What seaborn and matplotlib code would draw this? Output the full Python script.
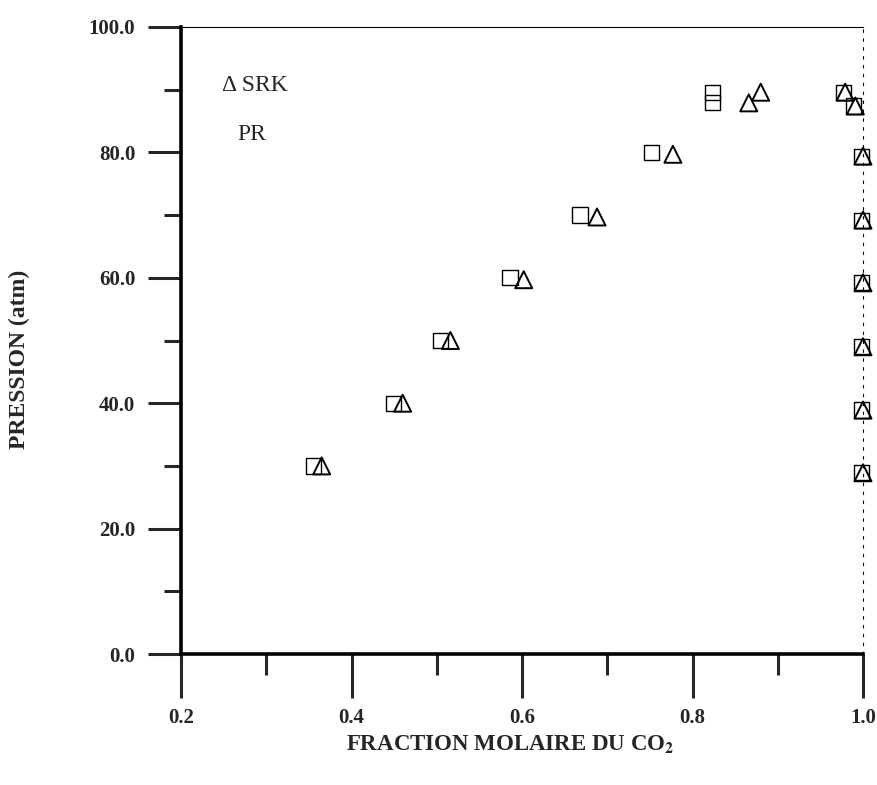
import matplotlib
matplotlib.use("Agg")
import matplotlib.pyplot as plt
import seaborn as sns
import pandas as pd
from matplotlib.ticker import MultipleLocator, FixedLocator

# SRK (triangles)
srk_x = [0.365, 0.460, 0.516, 0.602, 0.688, 0.777, 0.866, 0.880, 0.979, 0.991,
         1.000, 1.000, 1.000, 1.000, 1.000, 1.000]
srk_y = [30.0, 40.0, 50.0, 59.7, 69.7, 79.7, 87.9, 89.6, 89.6, 87.4,
         79.4, 69.2, 59.2, 49.0, 38.9, 28.9]
# PR (open squares)
pr_x = [0.355, 0.449, 0.504, 0.586, 0.668, 0.752, 0.823, 0.823, 0.977, 0.989,
        0.998, 0.998, 0.998, 0.998, 0.998, 0.998]
pr_y = [30.0, 40.0, 50.0, 60.0, 70.0, 80.0, 89.6, 88.0, 89.6, 87.4,
        79.4, 69.2, 59.2, 49.0, 38.9, 28.9]

x_ticks = [0.2, 0.4, 0.6, 0.8, 1.0]
x_ticklabels = ["0.2", "0.4", "0.6", "0.8", "1.0"]
y_ticks = [0, 20, 40, 60, 80, 100]
y_ticklabels = ["0.0", "20.0", "40.0", "60.0", "80.0", "100.0"]

sns.set_style("white")
plt.rcParams["font.family"] = ["Liberation Serif", "DejaVu Serif"]
plt.rcParams["mathtext.fontset"] = "stix"

fig = plt.figure(figsize=(8.77, 7.85), dpi=100)
ax = fig.add_axes([181/877, 1 - 654/785, (863 - 181)/877, (654 - 27)/785])

df_srk = pd.DataFrame({"x": srk_x, "y": srk_y})
df_pr = pd.DataFrame({"x": pr_x, "y": pr_y})

sns.scatterplot(data=df_pr, x="x", y="y", marker="s", s=120, facecolors="none",
                edgecolor="black", linewidth=1.0, ax=ax, clip_on=False, zorder=3)
sns.scatterplot(data=df_srk, x="x", y="y", marker="^", s=150, facecolors="none",
                edgecolor="black", linewidth=1.4, ax=ax, clip_on=False, zorder=4)

ax.set_xlim(0.2, 1.0)
ax.set_ylim(0, 100)

ax.xaxis.set_major_locator(FixedLocator(x_ticks))
ax.set_xticklabels(x_ticklabels)
ax.xaxis.set_minor_locator(MultipleLocator(0.1))
ax.yaxis.set_major_locator(FixedLocator(y_ticks))
ax.set_yticklabels(y_ticklabels)
ax.yaxis.set_minor_locator(MultipleLocator(10))

ax.tick_params(axis="y", which="major", direction="out", length=24, width=2.2,
               pad=9, labelsize=15, left=True)
ax.tick_params(axis="y", which="minor", direction="out", length=12, width=2.2, left=True)
ax.tick_params(axis="x", which="major", direction="out", length=32, width=2.2,
               pad=7, labelsize=15, bottom=True)
ax.tick_params(axis="x", which="minor", direction="out", length=15, width=2.2, bottom=True)
for lab in ax.get_xticklabels() + ax.get_yticklabels():
    lab.set_fontweight("bold")

for side in ["left", "bottom"]:
    ax.spines[side].set_linewidth(2.6)
    ax.spines[side].set_color("black")
ax.spines["top"].set_linewidth(0.8)
ax.spines["top"].set_color("black")
ax.spines["right"].set_linewidth(0.8)
ax.spines["right"].set_linestyle((0, (2, 6)))
ax.spines["right"].set_color("black")

ax.set_xlabel("FRACTION MOLAIRE DU CO$_\\mathbf{2}$", fontsize=16.5, fontweight="bold")
ax.set_ylabel("PRESSION (atm)", fontsize=17, fontweight="bold")
ax.xaxis.set_label_coords(0.482, -0.126)
ax.yaxis.set_label_coords(-0.222, 0.47)

ax.text(0.248, 90.7, "Δ SRK", fontsize=17, va="center", ha="left")
ax.text(0.266, 82.9, "PR", fontsize=17, va="center", ha="left")

fig.savefig("out.png", dpi=100)
